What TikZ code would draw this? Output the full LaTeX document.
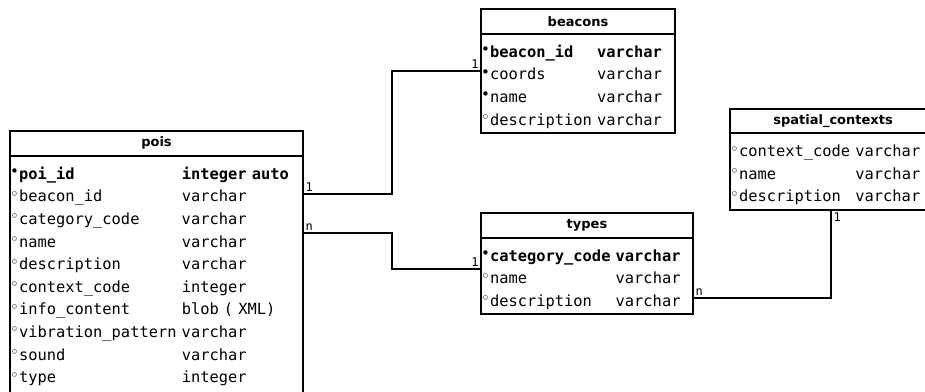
\documentclass[tikz,border=0pt]{standalone}
\usepackage{fontspec}
\setmainfont{DejaVu Sans}
\newfontfamily\monof{DejaVu Sans Mono}
\newfontfamily\symf{DejaVu Sans}

% key markers in front of a column name
\newcommand{\pkmark}{\makebox[8pt][l]{\hspace{-0.8pt}\raisebox{0.3ex}{\symf\fontsize{15}{15}\selectfont •}}}
\newcommand{\nnmark}{\makebox[8pt][l]{\hspace{-0.8pt}\raisebox{0.3ex}{\symf\fontsize{15}{15}\selectfont ◦}}}
% extra room above the first row
\newcommand{\toprow}{\rule{0pt}{22.5pt}}

\tikzset{
  tabtitle/.style={draw, line width=2pt, anchor=north west, minimum width=#1,
    minimum height=24.5pt, inner sep=0pt, outer sep=0pt,
    font=\fontsize{13}{15}\selectfont\bfseries},
  tabbody/.style={draw, line width=2pt, anchor=north west, text width=#1,
    inner xsep=1pt, inner ysep=1.2pt, outer sep=0pt, align=left,
    font=\monof\fontsize{15.4}{22.6}\selectfont},
  conn/.style={line width=2pt},
  card/.style={font=\monof\fontsize{12}{14}\selectfont, inner sep=1.5pt}
}

\begin{document}
\begin{tikzpicture}[x=1pt, y=-1pt]
\useasboundingbox (0,0) rectangle (925,391);
\clip (0,0) rectangle (925,391);
% Table pois
\node[tabtitle=293pt] (poishead) at (10,131) {pois};
\node[tabbody=291pt] (pois) at (poishead.south west) {%
\begin{tabular}{@{}l@{\ }l@{}}
\toprow\pkmark\textbf{poi\_id} & \textbf{integer auto}\\
\nnmark beacon\_id & varchar\\
\nnmark category\_code & varchar\\
\nnmark name & varchar\\
\nnmark description & varchar\\
\nnmark context\_code & integer\\
\nnmark info\_content & blob ( XML)\\
\nnmark vibration\_pattern & varchar\\
\nnmark sound & varchar\\
\nnmark type & integer\\[4pt]
\end{tabular}};
% Table beacons
\node[tabtitle=194pt] (beaconshead) at (481,9) {beacons};
\node[tabbody=192pt] (beacons) at (beaconshead.south west) {%
\begin{tabular}{@{}l@{\ }l@{}}
\toprow\pkmark\textbf{beacon\_id} & \textbf{varchar}\\
\pkmark coords & varchar\\
\pkmark name & varchar\\
\nnmark description & varchar
\end{tabular}};
% Table types
\node[tabtitle=212pt] (typeshead) at (481,213) {types};
\node[tabbody=210pt] (types) at (typeshead.south west) {%
\begin{tabular}{@{}l@{\ }l@{}}
\toprow\pkmark\textbf{category\_code} & \textbf{varchar}\\
\nnmark name & varchar\\
\nnmark description & varchar
\end{tabular}};
% Table spatial_contexts
\node[tabtitle=206pt] (spatialhead) at (730,108.5) {spatial\_contexts};
\node[tabbody=204pt] (spatial) at (spatialhead.south west) {%
\begin{tabular}{@{}l@{\ }l@{}}
\toprow\nnmark context\_code & varchar\\
\nnmark name & varchar\\
\nnmark description & varchar
\end{tabular}};
% Links
\coordinate (jog) at (392,0);
\coordinate (p1) at ([yshift=-38pt]pois.north east);
\coordinate (p2) at ([yshift=-77pt]pois.north east);
\coordinate (b1) at ([yshift=-37.5pt]beacons.north west);
\coordinate (t1) at ([yshift=-31pt]types.north west);
\coordinate (t2) at ([yshift=-60pt]types.north east);
\coordinate (s1) at (spatial.south -| 831,0);
\draw[conn] (p1) node[card, anchor=south west] {1} -| (jog |- b1) -- (b1) node[card, anchor=south east] {1};
\draw[conn] (p2) node[card, anchor=south west] {n} -| (jog |- t1) -- (t1) node[card, anchor=south east] {1};
\draw[conn] (s1) node[card, anchor=north west] {1} |- (t2) node[card, anchor=south west] {n};
\end{tikzpicture}
\end{document}
